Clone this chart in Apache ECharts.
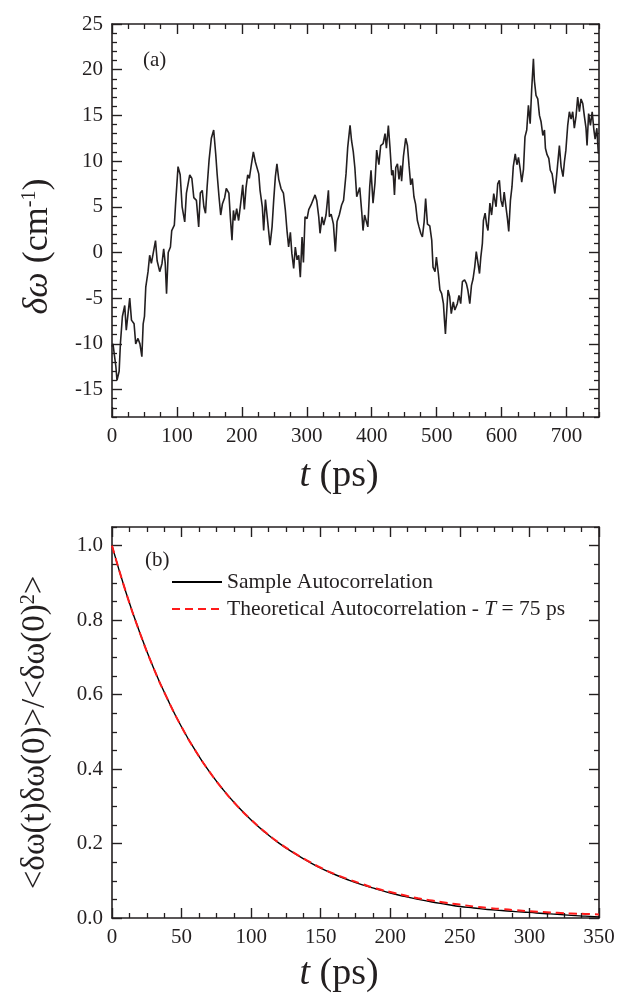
<!DOCTYPE html>
<html><head><meta charset="utf-8">
<script src="https://cdn.jsdelivr.net/npm/echarts@6/dist/echarts.min.js"></script>
<style>html,body{margin:0;padding:0;background:#fff}#c{width:618px;height:994px}</style>
</head><body><div id="c"></div>
<script>
// ---- Panel (a): frequency fluctuation trajectory ----
const fluctT = [0,1.5,4,6,7.7,9.2,11,13,16,19.6,22,25,27.3,30,34,36.5,40,43,46,48,50,52,55.5,58,60.6,63,67,69.5,73.5,77,79.6,82,84,86.6,90,92,96,98,101.7,105,108,112,114.6,119.7,123,126,130,133.5,136,139,141.5,144,146.5,149.5,153,156.6,159.7,162,164.8,167.4,170,173.5,176,180,182.4,184.8,187,189,192,195,198.7,201.3,203.8,206.4,209,211.5,214,217.7,220.8,223,226,228,231.5,233.6,236.3,239.8,243.4,246.5,249,251.6,254,256.8,260.3,264,267,269.5,272,274.7,277,279.8,282.3,285,287.5,290,292.7,294.8,297.3,300.4,303,306.5,309,312.7,315.3,318.4,320.4,323.5,326,329.6,333.3,334.8,337.5,341,344,346.6,350,353.6,356.6,360.4,363,366.6,369,371.6,374,376.9,379.5,381.5,384.6,386.6,389,392,394,396.9,398.9,402,405,407.6,411,413.8,417.5,420.5,422.6,425.6,428,430.8,432.8,435,437,439.6,442,444.6,446,448.8,452.3,455,457.5,460,462.5,465,467.5,470.3,472.8,475.5,478,480.7,483,485.8,489.4,492.4,494.4,497.5,499.6,502.6,505,507.7,510.4,512,513.5,515,517.5,520,522.5,525.6,528,531.8,534.4,537,539.6,543,545.8,548,551,553.6,556,558.6,561,563.6,566,568,570.4,572,574.6,577,579,582,584.6,587.9,591.5,594,596.6,599,601.6,604,606.7,609,611,613.6,616,618,621,623.6,626,628.7,631,633.7,636,638.7,641.3,644,646.3,649,650.5,653,655.7,658.3,660.8,663.5,666,667.5,670,672.7,675,677.8,680.2,682,684.6,686,689,691.6,694.6,696.7,699,701.8,704.4,707,709.5,712,714.6,717.2,719.8,722.3,725,727.5,730,731.6,734,736.8,739.5,742,744,746.7,749];
const fluctV = [-10.3,-10.0,-11.4,-12.5,-14.0,-14.2,-13.0,-9.9,-7.0,-5.8,-8.5,-8.3,-5.0,-7.4,-7.8,-10.0,-9.4,-10.0,-11.4,-7.8,-7.0,-3.8,-2.1,-0.3,-1.2,-1.1,1.3,-0.9,-2.1,-1.2,0.4,-1.2,-4.5,0.0,0.6,2.4,3.0,5.4,9.4,8.5,5.0,3.35,6.5,8.5,8.1,6.0,5.7,2.8,6.5,6.8,5.0,4.3,7.2,10.1,12.5,13.4,10.8,8.5,6.1,4.1,5.3,6.0,7.0,6.5,3.7,1.35,4.6,3.5,4.8,3.5,5.7,7.4,4.7,7.1,8.5,8.1,9.3,11.0,9.9,10.1,8.6,6.8,5.0,2.4,5.8,3.35,0.8,2.8,5.7,8.3,9.7,8.0,7.0,6.5,4.6,2.4,0.6,2.2,-0.1,-1.75,0.6,-0.8,-0.3,-2.7,1.7,-1.1,3.9,3.7,4.7,5.2,5.0,6.3,5.7,3.9,2.1,3.9,3.0,4.1,6.8,3.9,4.2,3.1,0.1,3.4,4.1,5.2,5.7,8.6,11.5,13.9,12.2,11.0,9.3,6.1,6.1,7.1,4.45,2.4,4.1,3.9,2.8,7.2,9.0,5.4,7.6,11.2,9.6,11.7,11.9,13.0,11.4,13.9,11.6,8.45,9.0,6.3,9.3,9.7,8.0,9.5,7.8,10.5,12.5,11.7,9.5,7.4,8.1,6.1,5.3,3.5,2.8,2.1,1.7,3.35,5.9,3.1,2.9,1.35,-1.6,-2.1,-0.5,-2.3,-4.1,-4.5,-5.6,-7.4,-8.9,-7.0,-4.1,-4.8,-6.7,-5.4,-6.3,-5.6,-4.7,-5.6,-3.2,-3.0,-3.4,-4.1,-5.6,-3.6,-2.9,-1.6,0.1,0.07,-2.3,-0.5,1.0,3.5,4.3,3.0,2.4,5.4,4.1,6.45,5.0,7.5,7.9,5.7,5.0,6.6,5.0,3.7,2.3,5.7,7.2,9.4,10.8,9.6,10.4,9.1,7.7,9.1,12.65,13.4,16.1,14.1,17.8,21.2,18.8,17.2,16.8,15.0,14.3,12.8,13.4,11.4,10.7,10.3,9.0,8.6,7.4,6.45,8.3,9.4,11.7,9.4,8.3,9.9,11.2,13.9,15.4,14.6,15.4,13.6,14.9,17.0,15.4,16.8,16.3,14.9,13.6,11.7,15.2,13.9,15.4,13.5,12.4,13.6,10.8];

// ---- Panel (b): autocorrelation ----
const corrT = [0,10,20,30,40,50,60,70,80,90,100,110,120,130,140,150,160,170,180,190,200,210,220,230,240,250,260,270,280,290,300,310,320,330,340,350];
const sampleCorr = [1.0,0.875,0.766,0.670,0.587,0.513,0.449,0.393,0.344,0.301,0.263,0.230,0.201,0.176,0.154,0.134,0.117,0.102,0.089,0.078,0.067,0.058,0.050,0.043,0.037,0.031,0.027,0.023,0.020,0.017,0.015,0.012,0.010,0.007,0.005,0.003];
const theoryCorr = [1.0,0.875,0.766,0.670,0.587,0.513,0.449,0.393,0.344,0.301,0.264,0.231,0.202,0.177,0.155,0.135,0.118,0.104,0.091,0.079,0.070,0.061,0.053,0.047,0.041,0.036,0.031,0.027,0.024,0.021,0.018,0.016,0.014,0.012,0.011,0.0094];

// ---- tick labels ----
const topXTicks = [0,100,200,300,400,500,600,700];
const topYTicks = [-15,-10,-5,0,5,10,15,20,25];
const botXTicks = [0,50,100,150,200,250,300,350];
const botYTicks = [0,0.2,0.4,0.6,0.8,1.0];
const topXRange = [0,750], topYRange = [-18,25], botXRange = [0,350], botYRange = [0,1.05];
const topXMinorStep = 25, topYMinorStep = 1, botXMinorStep = 12.5, botYMinorStep = 0.05;

const FONT = '"Liberation Serif", "Times New Roman", serif';
const INK = '#231f20';

function minorVals(range, step, majors){
  const out = [];
  const n = Math.round((range[1]-range[0])/step);
  for (let i=0;i<=n;i++){
    const v = +(range[0]+i*step).toFixed(6);
    if (v<range[0]-1e-9 || v>range[1]+1e-9) continue;
    if (majors.some(m=>Math.abs(m-v)<1e-9)) continue;
    out.push(v);
  }
  return out;
}

function axisPair(pos, grid, range, majors, minorStep, labelOpt, nameOpt){
  const minors = minorVals(range, minorStep, majors);
  const base = {type:'value', gridIndex:grid, position:pos, min:range[0], max:range[1], splitLine:{show:false}, silent:true};
  const major = Object.assign({}, base, {
    axisLine:{show:true, onZero:false, lineStyle:{color:INK, width:1.6}},
    axisTick:{show:true, inside:true, length:10, customValues:majors, lineStyle:{color:INK, width:1.4}},
    axisLabel: labelOpt ? Object.assign({show:true, customValues:majors, fontFamily:FONT, fontSize:21, color:INK}, labelOpt) : {show:false, customValues:majors}
  }, nameOpt||{});
  const minor = Object.assign({}, base, {
    axisLine:{show:false, onZero:false},
    axisTick:{show:true, inside:true, length:5, customValues:minors, lineStyle:{color:INK, width:1.3}},
    axisLabel:{show:false, customValues:minors}
  });
  return [major, minor];
}

const xAxes = [].concat(
  axisPair('bottom',0,topXRange,topXTicks,topXMinorStep,{margin:9},{
    name:'{i|t}{n| (ps)}', nameLocation:'middle', nameGap:40,
    nameTextStyle:{fontFamily:FONT, fontSize:38, color:INK, padding:[0,33,0,0],
      rich:{i:{fontFamily:FONT,fontSize:38,fontStyle:'italic',color:INK}, n:{fontFamily:FONT,fontSize:38,color:INK}}}
  }),
  axisPair('top',0,topXRange,topXTicks,topXMinorStep,null),
  axisPair('bottom',1,botXRange,botXTicks,botXMinorStep,{margin:9},{
    name:'{i|t}{n| (ps)}', nameLocation:'middle', nameGap:37,
    nameTextStyle:{fontFamily:FONT, fontSize:38, color:INK, padding:[0,33,0,0],
      rich:{i:{fontFamily:FONT,fontSize:38,fontStyle:'italic',color:INK}, n:{fontFamily:FONT,fontSize:38,color:INK}}}
  }),
  axisPair('top',1,botXRange,botXTicks,botXMinorStep,null)
);
const yAxes = [].concat(
  axisPair('left',0,topYRange,topYTicks,topYMinorStep,{margin:9},{
    name:'{i|δω}{n| (cm}{s|-1}{n|)}', nameLocation:'middle', nameGap:56, nameRotate:90,
    nameTextStyle:{fontFamily:FONT, fontSize:36, color:INK, padding:[0,52,0,0],
      rich:{i:{fontFamily:FONT,fontSize:36,fontStyle:'italic',color:INK,verticalAlign:'middle'},
            n:{fontFamily:FONT,fontSize:36,color:INK,verticalAlign:'middle'},
            s:{fontFamily:FONT,fontSize:20,color:INK,verticalAlign:'top'}}}
  }),
  axisPair('right',0,topYRange,topYTicks,topYMinorStep,null),
  axisPair('left',1,botYRange,botYTicks,botYMinorStep,{margin:9, formatter:v=>v.toFixed(1)},{
    name:'{n|<δω(t)δω(0)>/<δω(0)}{s|2}{n|>}', nameLocation:'middle', nameGap:60, nameRotate:90,
    nameTextStyle:{fontFamily:FONT, fontSize:33, color:INK, padding:[0,20,0,0],
      rich:{n:{fontFamily:FONT,fontSize:33,color:INK,verticalAlign:'middle'},
            s:{fontFamily:FONT,fontSize:20,color:INK,verticalAlign:'top'}}}
  }),
  axisPair('right',1,botYRange,botYTicks,botYMinorStep,null)
);

const option = {
  backgroundColor:'#fff',
  animation:false,
  grid:[
    {left:112, top:24, width:487, height:393},
    {left:112, top:527, width:487, height:393}
  ],
  xAxis:xAxes,
  yAxis:yAxes,
  legend:{
    show:true, orient:'vertical', left:166, top:566, itemWidth:50, itemHeight:14, itemGap:5,
    itemStyle:{opacity:0},
    textStyle:{fontFamily:FONT, fontSize:21.5, color:INK,
      rich:{n:{fontFamily:FONT,fontSize:21.5,color:INK}, i:{fontFamily:FONT,fontSize:21.5,fontStyle:'italic',color:INK}}},
    formatter:function(name){
      if (name.indexOf('Theoretical')===0) return '{n|Theoretical Autocorrelation - }{i|T}{n| = 75 ps}';
      return '{n|'+name+'}';
    },
    data:['Sample Autocorrelation','Theoretical Autocorrelation - T = 75 ps']
  },
  graphic:[
    {type:'text', left:143, top:50, style:{text:'(a)', font:'21px "Liberation Serif"', fill:INK}},
    {type:'text', left:145, top:550, style:{text:'(b)', font:'21px "Liberation Serif"', fill:INK}}
  ],
  series:[
    {type:'line', name:'fluct', xAxisIndex:0, yAxisIndex:0, showSymbol:false, symbol:'none',
     data:fluctT.map((t,i)=>[t,fluctV[i]]), lineStyle:{color:INK,width:1.6}, itemStyle:{color:INK}},
    {type:'line', name:'Sample Autocorrelation', xAxisIndex:4, yAxisIndex:4, showSymbol:false, symbol:'none', smooth:true,
     data:corrT.map((t,i)=>[t,sampleCorr[i]]), lineStyle:{color:'#000',width:1.4}, itemStyle:{color:'#000'}},
    {type:'line', name:'Theoretical Autocorrelation - T = 75 ps', xAxisIndex:4, yAxisIndex:4, showSymbol:false, symbol:'none', smooth:true,
     data:corrT.map((t,i)=>[t,theoryCorr[i]]), lineStyle:{color:'#ff1a1a',width:2,type:[8,5]}, itemStyle:{color:'#ff1a1a'}}
  ]
};
const chart = echarts.init(document.getElementById('c'), null, {renderer:'canvas'});
chart.setOption(option);
</script>
</body></html>
